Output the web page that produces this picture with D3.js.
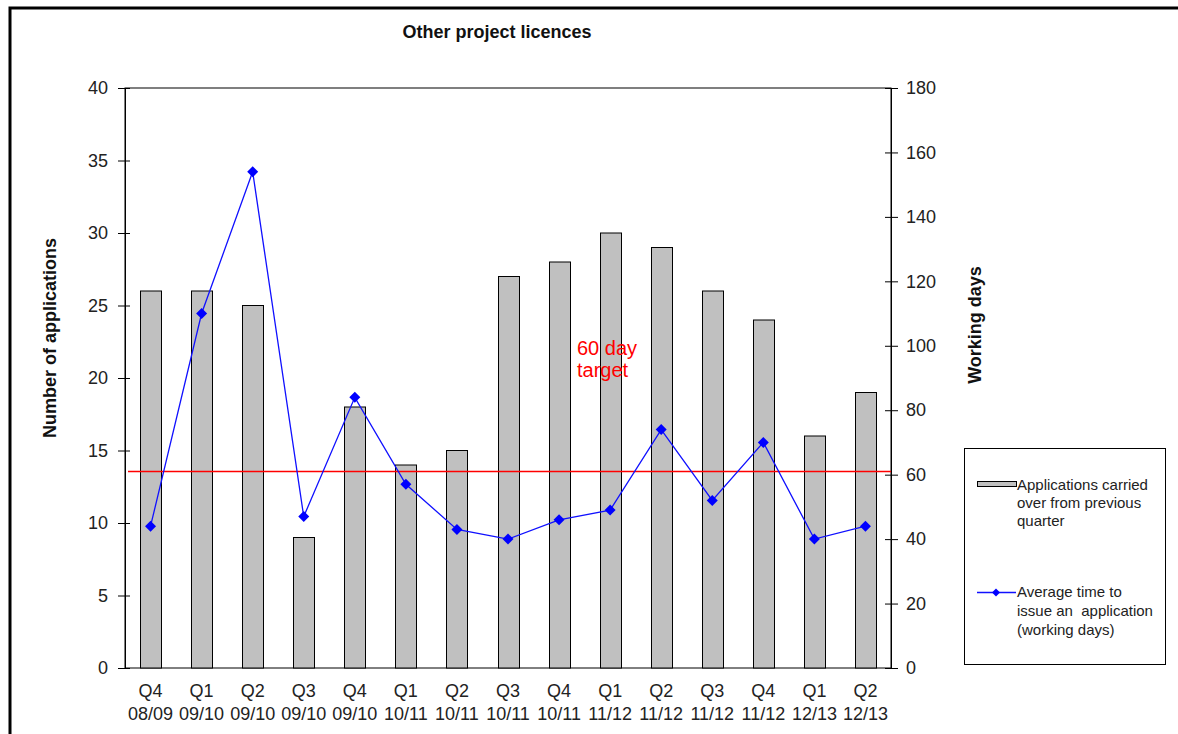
<!DOCTYPE html>
<html><head><meta charset="utf-8">
<script src="https://cdn.jsdelivr.net/npm/d3@7"></script>
<style>
body{margin:0;background:#fff;}
text{font-family:"Liberation Sans",Arial,sans-serif;}
</style></head>
<body><svg id="c" width="1178" height="734"></svg>
<script>
const quarters = ["Q4","Q1","Q2","Q3","Q4","Q1","Q2","Q3","Q4","Q1","Q2","Q3","Q4","Q1","Q2"];
const years = ["08/09","09/10","09/10","09/10","09/10","10/11","10/11","10/11","10/11","11/12","11/12","11/12","11/12","12/13","12/13"];
const carriedOver = [26,26,25,9,18,14,15,27,28,30,29,26,24,16,19];
const avgDays = [44,110,154,47,84,57,43,40,46,49,74,52,70,40,44];
const targetDays = 61;
const leftTicks = [0,5,10,15,20,25,30,35,40];
const rightTicks = [0,20,40,60,80,100,120,140,160,180];

const svg = d3.select("#c");
const L = 125, R = 891, T = 88, B = 668;
const cats = quarters.map((q,i)=>i);
const x = d3.scaleBand().domain(cats).range([L,R]).paddingInner(0.59).paddingOuter(0.295);
const xc = d3.scaleBand().domain(cats).range([L,R]);
const yL = d3.scaleLinear().domain([0,40]).range([B,T]);
const yR = d3.scaleLinear().domain([0,180]).range([B,T]);
const diamond = "M0,-5.5L5.5,0L0,5.5L-5.5,0Z";

// outer frame
svg.append("path").attr("d","M10,734 L10,8 L1178,8").attr("fill","none").attr("stroke","#000").attr("stroke-width",3);

// title
svg.append("text").attr("x",497).attr("y",38).attr("text-anchor","middle")
  .attr("font-size",18).attr("font-weight","bold").attr("fill","#111").text("Other project licences");

// plot box
svg.append("rect").attr("x",L).attr("y",T).attr("width",R-L).attr("height",B-T)
  .attr("fill","none").attr("stroke","#000").attr("stroke-width",1);

// bars
svg.append("g").selectAll("rect").data(carriedOver).join("rect")
  .attr("x",(d,i)=>Math.round(x(i))+0.5).attr("width",Math.round(x.bandwidth()))
  .attr("y",d=>yL(d)).attr("height",d=>B-yL(d))
  .attr("fill","#c0c0c0").attr("stroke","#000").attr("stroke-width",1);

// target line
const ty = Math.round(yR(targetDays))+0.5;
svg.append("line").attr("x1",L+3).attr("x2",R).attr("y1",ty).attr("y2",ty)
  .attr("stroke","#ff0000").attr("stroke-width",1.3);

// line series
const line = d3.line().x((d,i)=>xc(i)+xc.bandwidth()/2).y(d=>yR(d));
svg.append("path").datum(avgDays).attr("d",line).attr("fill","none").attr("stroke","#1010ff").attr("stroke-width",1.3);
svg.append("g").selectAll("path").data(avgDays).join("path")
  .attr("d",diamond)
  .attr("transform",(d,i)=>`translate(${xc(i)+xc.bandwidth()/2},${yR(d)})`)
  .attr("fill","#0000ff");

// left axis
const gL = svg.append("g").attr("transform",`translate(${L},0)`)
  .call(d3.axisLeft(yL).tickValues(leftTicks).tickSize(6).tickPadding(11));
gL.select(".domain").attr("stroke","#000");
gL.selectAll(".tick line").attr("x1",-7).attr("x2",5).attr("stroke","#000");
gL.selectAll(".tick text").attr("font-size",18).attr("fill","#222").attr("font-family","Liberation Sans, Arial");

// right axis
const gR = svg.append("g").attr("transform",`translate(${R},0)`)
  .call(d3.axisRight(yR).tickValues(rightTicks).tickSize(6).tickPadding(9));
gR.select(".domain").attr("stroke","#000");
gR.selectAll(".tick line").attr("x1",-6).attr("x2",7).attr("stroke","#000");
gR.selectAll(".tick text").attr("font-size",18).attr("fill","#222").attr("font-family","Liberation Sans, Arial");

// x labels
const gx = svg.append("g");
quarters.forEach((q,i)=>{
  const cx = xc(i)+xc.bandwidth()/2;
  gx.append("text").attr("x",cx).attr("y",697).attr("text-anchor","middle").attr("font-size",18).attr("fill","#222").text(q);
  gx.append("text").attr("x",cx).attr("y",720).attr("text-anchor","middle").attr("font-size",18).attr("fill","#222").text(years[i]);
});

// axis titles
svg.append("text").attr("transform","translate(56,338) rotate(-90)").attr("text-anchor","middle")
  .attr("font-size",18).attr("font-weight","bold").attr("fill","#111").text("Number of applications");
svg.append("text").attr("transform","translate(981,325) rotate(-90)").attr("text-anchor","middle")
  .attr("font-size",18).attr("font-weight","bold").attr("fill","#111").text("Working days");

// 60 day target annotation
svg.append("text").attr("x",577).attr("y",355).attr("font-size",20).attr("fill","#f00").text("60 day");
svg.append("text").attr("x",577).attr("y",377).attr("font-size",20).attr("fill","#f00").text("target");

// legend
const lg = svg.append("g");
lg.append("rect").attr("x",964.5).attr("y",448.5).attr("width",201).attr("height",216).attr("fill","#fff").attr("stroke","#000");
lg.append("rect").attr("x",977.5).attr("y",481.5).attr("width",39).attr("height",5).attr("fill","#c0c0c0").attr("stroke","#000");
["Applications carried","over from previous","quarter"].forEach((t,i)=>{
  lg.append("text").attr("x",1017).attr("y",490+i*18).attr("font-size",15).attr("fill","#222").text(t);
});
lg.append("line").attr("x1",977).attr("x2",1016).attr("y1",592.5).attr("y2",592.5).attr("stroke","#1010ff").attr("stroke-width",1.3);
lg.append("path").attr("d","M0,-4L4,0L0,4L-4,0Z").attr("transform","translate(996,592.5)").attr("fill","#0000ff");
["Average time to","issue an  application","(working days)"].forEach((t,i)=>{
  lg.append("text").attr("x",1017).attr("y",597+i*19).attr("font-size",15).attr("fill","#222").attr("xml:space","preserve").text(t);
});
</script></body></html>
